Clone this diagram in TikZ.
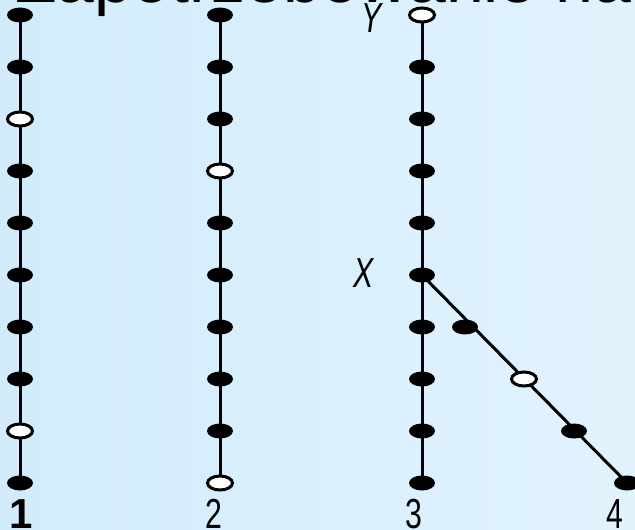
\documentclass[tikz,border=0pt]{standalone}
\usepackage{fontspec}
\setmainfont{Liberation Sans}
\usetikzlibrary{shapes.geometric}
\pgfdeclarelayer{back}
\pgfdeclarelayer{bg}
\pgfsetlayers{back,bg,main}
\definecolor{bgleft}{RGB}{210,236,252}
\definecolor{bgright}{RGB}{225,243,253}
\tikzset{
  full/.style={ellipse, fill=black, minimum width=26pt, minimum height=15pt, inner sep=0pt},
  hollow/.style={ellipse, draw=black, fill=white, line width=3pt, minimum width=25pt, minimum height=14pt, inner sep=0pt},
  wire/.style={line width=3pt, line cap=butt},
  lab/.style={font=\fontsize{42}{50}\selectfont, inner sep=0pt, anchor=base},
}
\begin{document}
\begin{tikzpicture}[x=1pt,y=-1pt]
\useasboundingbox (0,0) rectangle (635,530);
\clip (0,0) rectangle (635,530);
\begin{pgfonlayer}{back}
\shade[left color=bgleft, right color=bgright] (0,0) rectangle (635,530);
\end{pgfonlayer}
\node[anchor=base west, inner sep=0pt, font=\fontsize{68}{80}\selectfont] (title) at (15,2) {Zapotrzebowanie na};
% column 1
\node[full]   (a1)  at (20,15) {};
\node[full]   (a2)  at (20,67) {};
\node[hollow] (a3)  at (20,119) {};
\node[full]   (a4)  at (20,171) {};
\node[full]   (a5)  at (20,223) {};
\node[full]   (a6)  at (20,275) {};
\node[full]   (a7)  at (20,327) {};
\node[full]   (a8)  at (20,379) {};
\node[hollow] (a9)  at (20,431) {};
\node[full]   (a10) at (20,483) {};
% column 2
\node[full]   (b1)  at (220,15) {};
\node[full]   (b2)  at (220,67) {};
\node[full]   (b3)  at (220,119) {};
\node[hollow] (b4)  at (220,171) {};
\node[full]   (b5)  at (220,223) {};
\node[full]   (b6)  at (220,275) {};
\node[full]   (b7)  at (220,327) {};
\node[full]   (b8)  at (220,379) {};
\node[full]   (b9)  at (220,431) {};
\node[hollow] (b10) at (220,483) {};
% column 3
\node[hollow] (c1)  at (422,15) {};
\node[full]   (c2)  at (422,67) {};
\node[full]   (c3)  at (422,119) {};
\node[full]   (c4)  at (422,171) {};
\node[full]   (c5)  at (422,223) {};
\node[full]   (c6)  at (422,275) {};
\node[full]   (c7)  at (422,327) {};
\node[full]   (c8)  at (422,379) {};
\node[full]   (c9)  at (422,431) {};
\node[full]   (c10) at (422,483) {};
% diagonal branch
\node[full]   (d1) at (465,327) {};
\node[hollow] (d2) at (524,379) {};
\node[full]   (d3) at (574,431) {};
\node[full]   (d4) at (627,483) {};
\begin{pgfonlayer}{bg}
  \draw[wire] (a1.center) -- (a10.center);
  \draw[wire] (b1.center) -- (b10.center);
  \draw[wire] (c1.center) -- (c10.center);
  \draw[wire] (c6.center) -- (d4.center);
\end{pgfonlayer}
% labels
\node[lab] (l1) at (21,528) {\bfseries 1};
\node[lab] (l2) at (214,528) {\scalebox{0.72}[1]{2}};
\node[lab] (l3) at (414,528) {\scalebox{0.72}[1]{3}};
\node[lab] (l4) at (615,528) {\scalebox{0.72}[1]{4}};
\node[lab] (lx) at (364,287) {\scalebox{0.72}[1]{\itshape X}};
\node[lab] (ly) at (372,32) {\scalebox{0.72}[1]{\itshape Y}};
\end{tikzpicture}
\end{document}
